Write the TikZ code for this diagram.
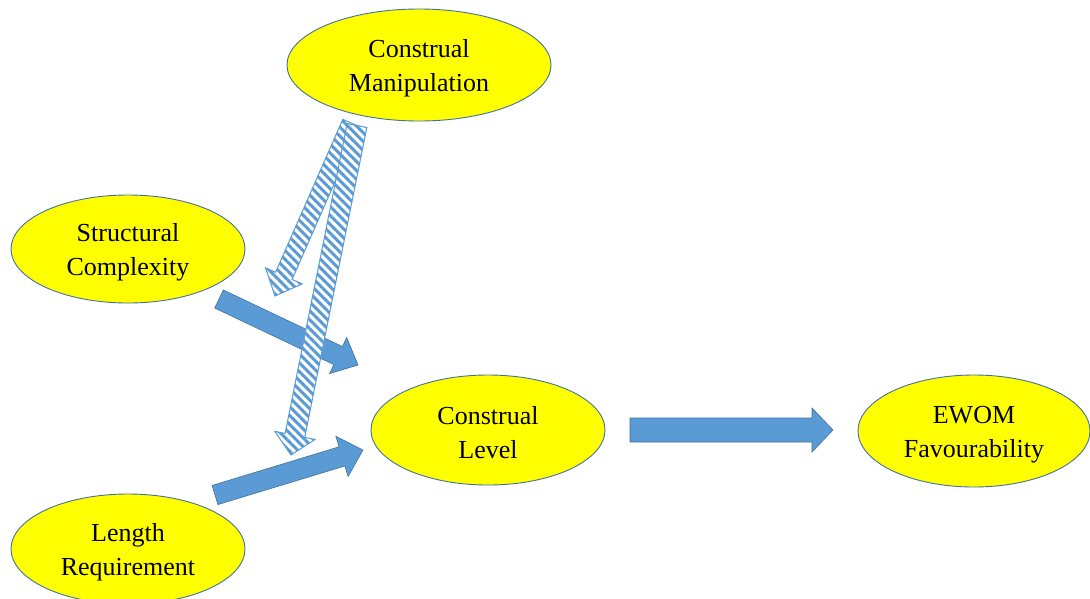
\documentclass[tikz,border=0pt]{standalone}
\usepackage{fontspec}
\setmainfont{Liberation Serif}
\usetikzlibrary{shapes.geometric,calc,patterns.meta}
\definecolor{ellfill}{HTML}{FFFF00}
\definecolor{ellline}{HTML}{41719C}
\definecolor{arrfill}{HTML}{5B9BD5}
\definecolor{arrline}{HTML}{41719C}
\tikzset{
  ell/.style={ellipse, draw=ellline, line width=0.9pt, fill=ellfill, inner sep=0pt},
  txt/.style={align=center, inner sep=0pt, font=\fontsize{26}{34}\selectfont},
  solidarrow/.style={fill=arrfill, draw=arrline, line width=0.6pt, line join=miter},
  stripearrow/.style={draw=arrfill, line width=1pt, line join=miter, fill=white,
    postaction={pattern={Lines[angle=-45,distance=6.3pt,line width=3pt]}, pattern color=arrfill}}
}
\newcommand\blockarrow[6]{%
  \coordinate (ba-b) at ($(#3)!#6!(#2)$);
  \path[#1] ($(#2)!#4!90:(#3)$) -- ($(ba-b)!#4!90:(#3)$) -- ($(ba-b)!#5!90:(#3)$) -- (#3)
    -- ($(ba-b)!#5!-90:(#3)$) -- ($(ba-b)!#4!-90:(#3)$) -- ($(#2)!#4!-90:(#3)$) -- cycle;
}
\begin{document}
\begin{tikzpicture}[x=1pt,y=-1pt]
\useasboundingbox (0,0) rectangle (1090,598);
\fill[white] (0,0) rectangle (1090,598);

\node[ell, minimum width=264pt, minimum height=112pt] (cm) at (419,65) {};
\node[ell, minimum width=234pt, minimum height=108pt] (sc) at (128,249) {};
\node[ell, minimum width=234pt, minimum height=110pt] (lr) at (128,549) {};
\node[ell, minimum width=234pt, minimum height=110pt] (cl) at (488,430) {};
\node[ell, minimum width=232pt, minimum height=112pt] (ew) at (974,431) {};

\node[txt] (cm-t) at ([yshift=-3.5pt]cm.center) {Construal\\Manipulation};
\node[txt] (sc-t) at ([yshift=-3pt]sc.center) {Structural\\Complexity};
\node[txt] (lr-t) at ([yshift=-3pt]lr.center) {Length\\Requirement};
\node[txt] (cl-t) at ([yshift=-2.5pt]cl.center) {Construal\\Level};
\node[txt] (ew-t) at ([yshift=-3.5pt]ew.center) {EWOM\\Favourability};

% arrow end points
\coordinate (scT) at (219,299);
\coordinate (scH) at (358,365);
\coordinate (lrT) at (215,495);
\coordinate (lrH) at (363,450);
\coordinate (clT) at (630,430);
\coordinate (clH) at (833,430);
\coordinate (maT) at (351,123);
\coordinate (maH) at (275,296);
\coordinate (mbT) at (357,125.5);
\coordinate (mbH) at (291,455);

\blockarrow{solidarrow}{scT}{scH}{10pt}{20pt}{22pt}
\blockarrow{solidarrow}{lrT}{lrH}{10pt}{21pt}{22pt}
\blockarrow{solidarrow}{clT}{clH}{12pt}{22pt}{21pt}

\blockarrow{stripearrow}{maT}{maH}{9pt}{20pt}{22pt}
\blockarrow{stripearrow}{mbT}{mbH}{10pt}{20.5pt}{20pt}
\end{tikzpicture}
\end{document}
